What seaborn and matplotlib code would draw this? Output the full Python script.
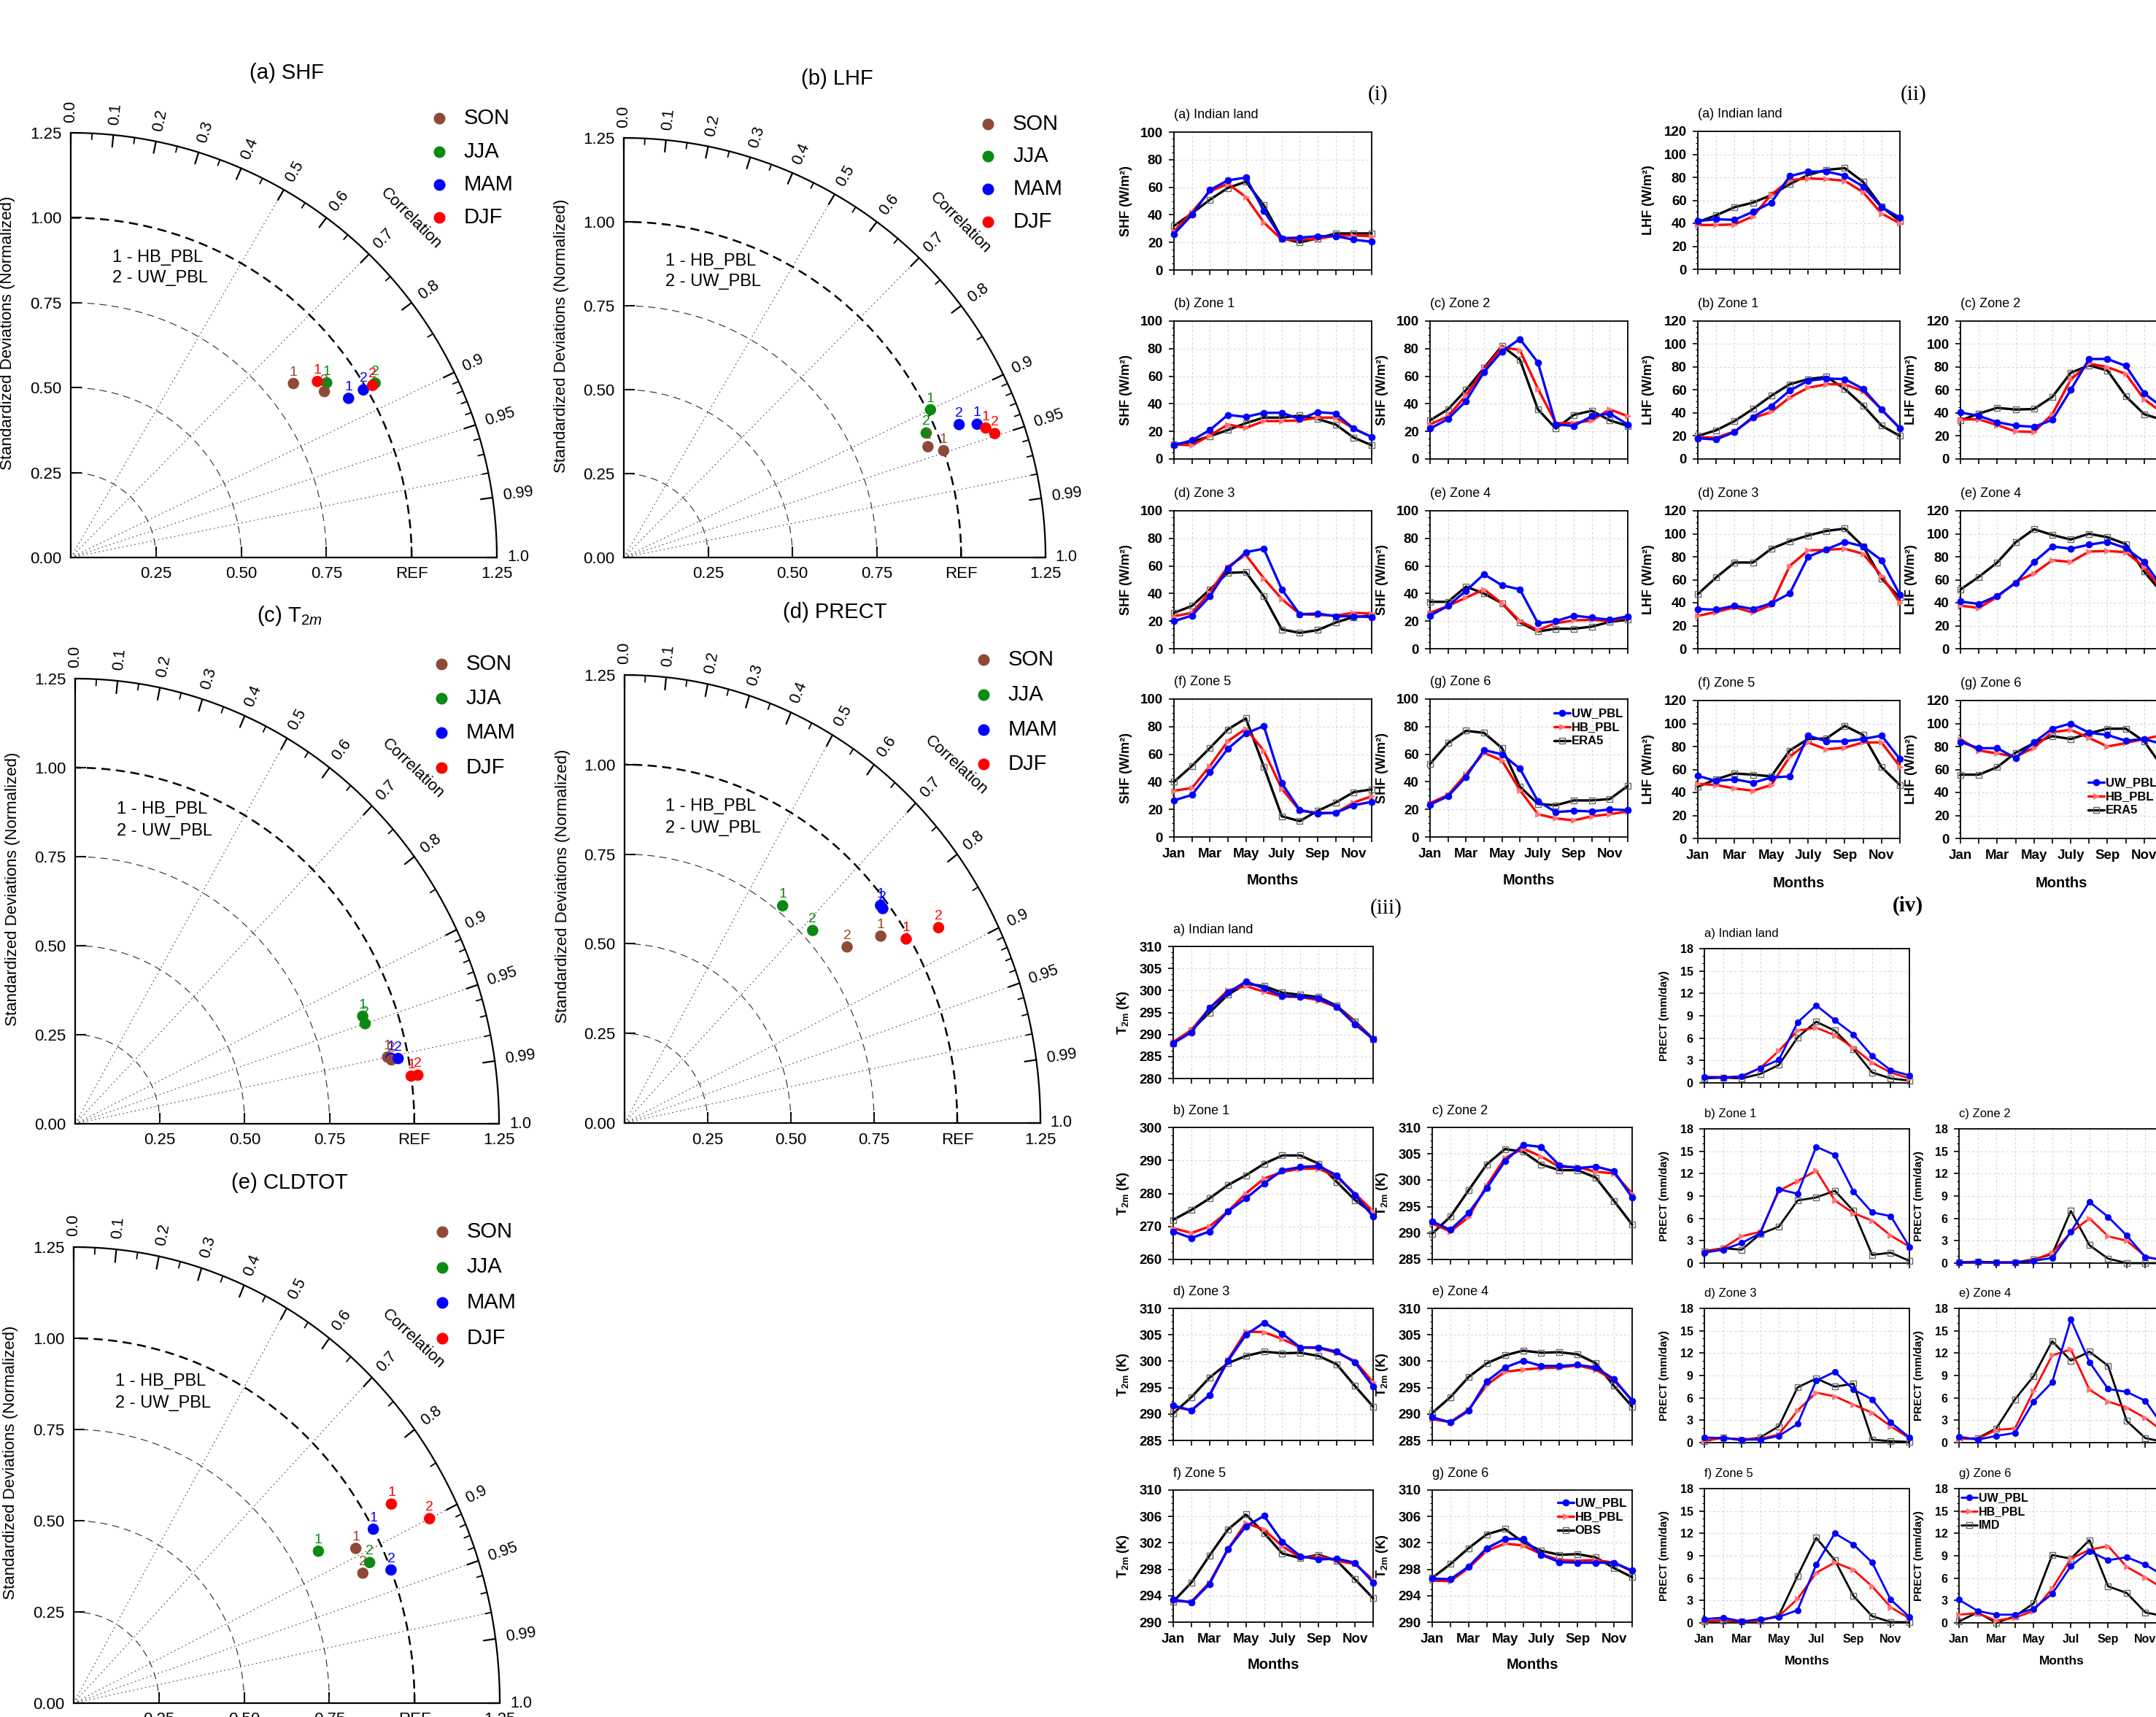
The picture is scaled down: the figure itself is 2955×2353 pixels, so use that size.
import numpy as np
import pandas as pd
import seaborn as sns
import matplotlib.pyplot as plt
from matplotlib.ticker import AutoMinorLocator

sns.set_style('ticks')
plt.rcParams['font.family'] = ['Liberation Sans', 'DejaVu Sans']
plt.rcParams['mathtext.fontset'] = 'custom'
plt.rcParams['mathtext.rm'] = 'Liberation Sans'
plt.rcParams['mathtext.it'] = 'Liberation Sans:italic'
plt.rcParams['mathtext.bf'] = 'Liberation Sans:bold'
for k in ['axes.edgecolor', 'text.color', 'xtick.color', 'ytick.color', 'axes.labelcolor']:
    plt.rcParams[k] = 'black'

NARROW = ['Liberation Sans Narrow', 'Liberation Sans', 'DejaVu Sans']
SERIF = ['Liberation Serif', 'DejaVu Serif']

# ---------------- Taylor diagram data (normalised std, correlation) ----------------
seasons = ['SON', 'JJA', 'MAM', 'DJF']
season_colors = ['#8e4a36', '#0b8a12', '#0000ff', '#ff0000']

taylor_titles = ['(a) SHF', '(b) LHF', '(c) T$_{2m}$', '(d) PRECT', '(e) CLDTOT']
# 1 - HB_PBL
hb_std = [[0.83, 0.91, 0.94, 0.89],
          [1.00, 1.01, 1.12, 1.14],
          [0.94, 0.90, 0.95, 1.00],
          [0.93, 0.77, 0.98, 0.99],
          [0.93, 0.83, 1.00, 1.08]]
hb_cor = [[0.787, 0.825, 0.867, 0.813],
          [0.948, 0.900, 0.935, 0.941],
          [0.980, 0.942, 0.981, 0.991],
          [0.828, 0.617, 0.785, 0.855],
          [0.890, 0.865, 0.879, 0.863]]
# 2 - UW_PBL
uw_std = [[0.89, 1.03, 0.99, 1.02],
          [0.96, 0.97, 1.07, 1.16],
          [0.95, 0.90, 0.97, 1.02],
          [0.83, 0.78, 0.98, 1.09],
          [0.92, 0.95, 1.00, 1.16]]
uw_cor = [[0.836, 0.867, 0.867, 0.868],
          [0.939, 0.924, 0.929, 0.948],
          [0.982, 0.950, 0.982, 0.991],
          [0.806, 0.725, 0.792, 0.866],
          [0.922, 0.914, 0.931, 0.900]]

# ---------------- Monthly cycle data ----------------
months = ['Jan', 'Feb', 'Mar', 'Apr', 'May', 'Jun', 'Jul', 'Aug', 'Sep', 'Oct', 'Nov', 'Dec']
zones = ['Indian land', 'Zone 1', 'Zone 2', 'Zone 3', 'Zone 4', 'Zone 5', 'Zone 6']

shf_uw = {
    'Indian land': [26, 40, 58, 65, 67, 43, 23, 23.5, 24.5, 24.5, 22, 20.5],
    'Zone 1': [10, 13.5, 21, 32, 30.5, 33.5, 33.5, 29, 34, 33, 22, 16],
    'Zone 2': [22, 29, 42, 63, 78, 87, 70, 25, 24, 31, 33, 25],
    'Zone 3': [20, 24, 38, 58, 70, 72.5, 43, 25, 25.5, 23.5, 23.5, 23],
    'Zone 4': [24, 31, 42, 54, 46, 43, 18.5, 20, 24, 22.5, 21, 23.5],
    'Zone 5': [26.5, 30.5, 47, 64, 75, 80.5, 39, 19.5, 17, 17.5, 23, 25.5],
    'Zone 6': [23.5, 29.5, 43.5, 63, 60, 49.5, 26, 18, 19, 18.5, 20, 19.5]}
shf_hb = {
    'Indian land': [28, 42, 57, 62.5, 53, 34.5, 22, 22, 22.5, 25, 25, 24.5],
    'Zone 1': [10.5, 10, 17, 25, 22.5, 27.5, 27.5, 28, 30, 30, 22, 16],
    'Zone 2': [25, 31, 46, 65, 81, 79, 51, 26, 26, 28, 36, 31],
    'Zone 3': [23.5, 26, 41, 59.5, 68, 51, 36, 25, 24.5, 24, 26, 25.5],
    'Zone 4': [26, 31, 37, 43, 33, 20, 13.5, 18.5, 20.5, 21, 20, 23],
    'Zone 5': [33.5, 35.5, 51.5, 69.5, 78.5, 62.5, 35, 19, 17.5, 17.5, 25, 29.5],
    'Zone 6': [24.5, 30.5, 45.5, 61, 55.5, 34, 16.5, 13.5, 12, 15, 16.5, 18.5]}
shf_era5 = {
    'Indian land': [32, 41, 51, 59.5, 64, 47, 23, 20, 23, 26.5, 26.5, 26.5],
    'Zone 1': [10.5, 12.5, 16.5, 21, 26, 30, 30, 31.5, 29, 25, 15.5, 10],
    'Zone 2': [28, 36, 50, 66, 82, 72, 36, 22, 32, 35, 28, 24],
    'Zone 3': [26, 31, 43, 55, 55.5, 38, 14, 11.5, 13.5, 19, 23, 24],
    'Zone 4': [34, 34, 45, 40, 33, 19, 12.5, 14.5, 14.5, 16, 19.5, 21],
    'Zone 5': [40, 51.5, 64.5, 78, 86, 51, 15, 11.5, 19, 25, 32.5, 34.5],
    'Zone 6': [53, 68, 77, 75.5, 64.5, 36.5, 24, 23, 26.5, 26.5, 27.5, 37]}

lhf_uw = {
    'Indian land': [42, 43.5, 43, 50, 58, 81, 85, 85, 81.5, 72, 54, 45],
    'Zone 1': [18, 17, 23.5, 36.5, 46, 59.5, 68, 70, 69.5, 61, 43, 26.5],
    'Zone 2': [40.5, 37.5, 32, 29, 28, 34, 60, 87, 87, 81, 57, 45],
    'Zone 3': [34.5, 34, 37.5, 34.5, 39.5, 48, 80, 86.5, 93, 89, 77, 47],
    'Zone 4': [41, 39, 46, 57, 75.5, 89, 87, 90.5, 93, 87.5, 75.5, 53],
    'Zone 5': [54.5, 50, 51.5, 48.5, 53, 54, 89.5, 84.5, 84.5, 86.5, 89.5, 69],
    'Zone 6': [84, 78.5, 78.5, 70, 83.5, 95.5, 100, 92, 90, 85, 86.5, 82]}
lhf_hb = {
    'Indian land': [38.5, 38.5, 39, 46, 65, 77.5, 79, 78.5, 77, 67, 48.5, 40],
    'Zone 1': [19, 18.5, 24, 35.5, 41, 53.5, 62, 65, 65, 59, 43, 27],
    'Zone 2': [34.5, 34.5, 29.5, 24, 23.5, 39, 69, 83, 80, 74, 52, 40],
    'Zone 3': [28.5, 32, 36, 31.5, 38, 72, 85.5, 86, 87, 82.5, 63.5, 40],
    'Zone 4': [37.5, 35.5, 45, 58, 65.5, 77, 75.5, 84.5, 85, 84, 71, 50],
    'Zone 5': [47.5, 46.5, 43.5, 41.5, 46.5, 71, 83.5, 77.5, 79, 83.5, 83.5, 62.5],
    'Zone 6': [86.5, 76.5, 74, 71, 79, 92.5, 94.5, 87.5, 80, 83, 86.5, 90]}
lhf_era5 = {
    'Indian land': [41, 47, 54, 58, 64.5, 74, 82, 86.5, 88, 76, 54.5, 42],
    'Zone 1': [20, 25, 33, 43.5, 55, 65, 69.5, 71.5, 61, 46.5, 29, 20],
    'Zone 2': [33.5, 39.5, 44.5, 43, 43.5, 54, 75, 81.5, 77, 54.5, 39, 34],
    'Zone 3': [47.5, 62, 75, 75, 87, 93.5, 98.5, 102.5, 104.5, 89, 61, 44.5],
    'Zone 4': [51.5, 62.5, 75, 92.5, 104, 99, 95, 100, 97, 91, 67, 48],
    'Zone 5': [45, 51.5, 56.5, 55.5, 54, 76.5, 86.5, 87, 98, 90, 62, 46.5],
    'Zone 6': [55.5, 55.5, 62, 74.5, 83, 89, 86.5, 91.5, 95.5, 95.5, 84.5, 62]}

t2m_uw = {
    'Indian land': [288, 290.5, 296, 299.5, 302, 300.5, 298.8, 298.6, 298.2, 296.3, 292.3, 289],
    'Zone 1': [268.5, 266.5, 268.5, 274.5, 278.5, 283, 287, 288, 288.3, 285.5, 279.5, 273],
    'Zone 2': [292.2, 290.6, 293.8, 298.5, 303.6, 306.7, 306.3, 302.8, 302.3, 302.6, 301.7, 296.7],
    'Zone 3': [291.6, 290.7, 293.6, 300, 305, 307.3, 305.2, 302.6, 302.6, 301.8, 299.8, 295.2],
    'Zone 4': [289.4, 288.4, 290.6, 296.2, 298.8, 300.1, 299.1, 299.1, 299.3, 298.8, 296.6, 292.5],
    'Zone 5': [293.4, 293, 295.8, 301, 304.5, 306.1, 302.2, 300, 299.5, 299.6, 299, 296],
    'Zone 6': [296.6, 296.5, 298.4, 301.2, 302.6, 302.6, 300.2, 299.1, 299, 299, 299, 297.8]}
t2m_hb = {
    'Indian land': [288.3, 291, 296, 300, 301, 299.7, 298.6, 298.5, 297.8, 296.2, 292.8, 288.8],
    'Zone 1': [269.5, 268, 270, 274.5, 280, 284.5, 286.5, 287.5, 287.5, 285, 280, 274.5],
    'Zone 2': [291.8, 290.3, 293, 299, 304.2, 306, 304.5, 302.5, 302.5, 301.6, 301.3, 297.5],
    'Zone 3': [291.4, 290.7, 293.6, 300.2, 305.6, 305.5, 304.2, 302.6, 302.5, 301.6, 300, 296],
    'Zone 4': [289, 288.5, 290.8, 295.5, 298, 298.4, 298.7, 298.8, 299.2, 298.4, 296.4, 292.6],
    'Zone 5': [293.2, 293.1, 296, 301, 305, 304, 301.5, 299.8, 300, 299.3, 298.8, 296.4],
    'Zone 6': [296.3, 296.2, 298.2, 300.8, 301.9, 301.6, 300.3, 299.4, 299.3, 299.4, 299, 297.7]}
t2m_obs = {
    'Indian land': [288, 291, 295, 299, 301.5, 301, 299.5, 299, 298.5, 296.5, 293, 289],
    'Zone 1': [272, 275, 278.5, 282.5, 285.5, 289, 291.5, 291.5, 289, 283.5, 278, 274],
    'Zone 2': [289.9, 293.1, 298.1, 303, 305.9, 305.4, 303, 301.9, 301.9, 300.5, 296.1, 291.6],
    'Zone 3': [290.1, 293.2, 296.9, 299.6, 301, 301.8, 301.5, 301.6, 301, 299.4, 295.3, 291.4],
    'Zone 4': [290.2, 293.2, 297, 299.6, 301.1, 302, 301.6, 301.7, 301.3, 299.6, 295.3, 291.4],
    'Zone 5': [293.1, 296, 300.1, 304, 306.3, 303.5, 300.4, 299.7, 300.2, 299.3, 296.5, 293.6],
    'Zone 6': [296.7, 298.8, 301.2, 303.3, 304.1, 302.1, 300.8, 300.2, 300.3, 299.8, 298.2, 296.8]}

prect_uw = {
    'Indian land': [0.8, 0.7, 0.9, 2.0, 3.1, 8.1, 10.4, 8.4, 6.5, 3.6, 1.7, 1.0],
    'Zone 1': [1.4, 1.8, 2.7, 4.0, 9.9, 9.3, 15.6, 14.5, 9.6, 6.8, 6.3, 2.2],
    'Zone 2': [0.1, 0.2, 0.1, 0.1, 0.3, 0.7, 4.2, 8.2, 6.2, 3.7, 0.8, 0.4],
    'Zone 3': [0.7, 0.6, 0.4, 0.4, 0.9, 2.5, 8.3, 9.5, 7.1, 5.8, 2.7, 0.7],
    'Zone 4': [0.8, 0.4, 0.9, 1.3, 5.5, 8.1, 16.5, 10.8, 7.2, 6.8, 5.6, 2.0],
    'Zone 5': [0.5, 0.7, 0.2, 0.5, 0.8, 1.7, 7.8, 12.0, 10.5, 8.1, 3.1, 0.8],
    'Zone 6': [3.1, 1.6, 1.1, 1.1, 1.9, 3.9, 7.6, 9.6, 8.4, 8.8, 7.8, 6.3]}
prect_hb = {
    'Indian land': [0.8, 0.8, 0.8, 2.0, 4.3, 7.0, 7.4, 6.4, 4.7, 2.7, 1.4, 0.6],
    'Zone 1': [1.5, 2.0, 3.6, 4.2, 9.7, 11.0, 12.4, 8.4, 6.7, 5.7, 3.7, 2.2],
    'Zone 2': [0.1, 0.1, 0.1, 0.1, 0.4, 1.4, 4.1, 6.0, 3.6, 3.0, 0.9, 0.3],
    'Zone 3': [0.3, 0.6, 0.5, 0.5, 1.1, 4.3, 6.7, 6.2, 5.1, 4.0, 2.2, 0.6],
    'Zone 4': [0.5, 0.5, 1.7, 1.9, 6.9, 11.7, 12.5, 7.1, 5.5, 4.7, 3.3, 1.4],
    'Zone 5': [0.2, 0.4, 0.2, 0.3, 0.9, 3.2, 6.7, 8.1, 7.1, 4.9, 2.1, 0.6],
    'Zone 6': [1.1, 1.3, 0.3, 0.7, 1.6, 4.6, 8.6, 9.8, 10.3, 7.5, 6.1, 4.5]}
prect_imd = {
    'Indian land': [0.6, 0.7, 0.6, 1.2, 2.4, 6.1, 8.2, 7.0, 4.5, 1.4, 0.6, 0.3],
    'Zone 1': [1.6, 2.0, 1.8, 3.9, 4.9, 8.4, 8.8, 9.7, 7.0, 1.1, 1.4, 0.3],
    'Zone 2': [0.1, 0.2, 0.1, 0.1, 0.5, 1.2, 7.0, 2.4, 0.6, 0.0, 0.0, 0.0],
    'Zone 3': [0.2, 0.7, 0.3, 0.7, 2.2, 7.4, 8.6, 7.5, 7.9, 0.4, 0.2, 0.1],
    'Zone 4': [0.5, 0.6, 1.9, 5.8, 8.9, 13.6, 11.0, 12.2, 10.3, 2.9, 0.6, 0.1],
    'Zone 5': [0.2, 0.3, 0.2, 0.3, 1.0, 6.3, 11.4, 8.4, 3.6, 0.9, 0.1, 0.1],
    'Zone 6': [0.2, 1.4, 0.0, 0.9, 2.6, 9.1, 8.6, 11.1, 4.9, 4.0, 1.4, 0.9]}

# y-axis ranges (min, max, step)
shf_range = {z: (0, 100, 20) for z in zones}
lhf_range = {z: (0, 120, 20) for z in zones}
t2m_range = {'Indian land': (280, 310, 5), 'Zone 1': (260, 300, 10), 'Zone 2': (285, 310, 5),
             'Zone 3': (285, 310, 5), 'Zone 4': (285, 310, 5), 'Zone 5': (290, 310, 4),
             'Zone 6': (290, 310, 4)}
prect_range = {z: (0, 18, 3) for z in zones}

# ---------------- figure ----------------
W, H = 2955, 2353
fig = plt.figure(figsize=(W / 100, H / 100), dpi=100)


def box(left, top, w, h):
    return [left / W, 1 - (top + h) / H, w / W, h / H]


major_cc = [0.0, 0.1, 0.2, 0.3, 0.4, 0.5, 0.6, 0.7, 0.8, 0.9, 0.95, 0.99, 1.0]
major_lbl = ['0.0', '0.1', '0.2', '0.3', '0.4', '0.5', '0.6', '0.7', '0.8', '0.9', '0.95', '0.99', '1.0']
minor_cc = [0.05, 0.15, 0.25, 0.35, 0.45, 0.55, 0.65, 0.75, 0.85,
            0.91, 0.92, 0.93, 0.94, 0.96, 0.97, 0.98]
ray_cc = [0.5, 0.7, 0.9, 0.95, 0.98]

# origin x, origin y, width, height (pixels) of each Taylor quadrant
taylor_boxes = [(97, 764, 584, 582), (855, 764, 578, 575), (103, 1540, 581, 610),
                (856, 1539, 570, 614), (101, 2334, 584, 625)]


def draw_taylor(rect, title, s1, c1, s2, c2):
    ox, oy, w, h = rect
    ax = fig.add_axes([ox / W, 1 - oy / H, w / W, h / H])
    ax.set_xlim(0, 1.25)
    ax.set_ylim(0, 1.25)
    ax.set_facecolor('none')
    for s in ['top', 'right']:
        ax.spines[s].set_visible(False)
    for s in ['left', 'bottom']:
        ax.spines[s].set_linewidth(1.6)

    def dang(a):
        return np.degrees(np.arctan2(np.sin(a) * h, np.cos(a) * w))

    th = np.linspace(0, np.pi / 2, 400)
    ax.plot(1.25 * np.cos(th), 1.25 * np.sin(th), color='black', lw=1.6, clip_on=False)
    ax.plot(np.cos(th), np.sin(th), color='black', lw=1.8, ls=(0, (5, 3)))
    for r in (0.25, 0.5, 0.75):
        ax.plot(r * np.cos(th), r * np.sin(th), color='#2a2a2a', lw=0.8, ls=(0, (9, 6)))
    for c in ray_cc:
        a = np.arccos(c)
        ax.plot([0, 1.25 * np.cos(a)], [0, 1.25 * np.sin(a)], color='#444444', lw=0.8,
                ls=(0, (1.5, 3.5)))
    for c, lab in zip(major_cc, major_lbl):
        a = np.arccos(c)
        ax.plot([1.25 * np.cos(a), 1.215 * np.cos(a)], [1.25 * np.sin(a), 1.215 * np.sin(a)],
                color='black', lw=1.6, clip_on=False)
        ax.text(1.28 * np.cos(a), 1.28 * np.sin(a), lab, rotation=dang(a), rotation_mode='anchor',
                ha='left', va='center', fontsize=15.5, clip_on=False)
    for c in minor_cc:
        a = np.arccos(c)
        ax.plot([1.25 * np.cos(a), 1.232 * np.cos(a)], [1.25 * np.sin(a), 1.232 * np.sin(a)],
                color='black', lw=1.3, clip_on=False)
    ax.text(1.41 * np.cos(np.pi / 4), 1.41 * np.sin(np.pi / 4), 'Correlation',
            rotation=dang(np.pi / 4) - 90, rotation_mode='anchor', ha='center', va='center',
            fontsize=16)

    ax.set_yticks([0, 0.25, 0.5, 0.75, 1.0, 1.25])
    ax.set_yticklabels(['0.00', '0.25', '0.50', '0.75', '1.00', '1.25'])
    ax.set_xticks([0, 0.25, 0.5, 0.75, 1.0, 1.25])
    ax.set_xticklabels(['', '0.25', '0.50', '0.75', 'REF', '1.25'])
    ax.tick_params(direction='in', length=11, width=1.5, labelsize=16, pad=9,
                   bottom=True, left=True)
    ax.text(-0.185, 0.66, 'Standardized Deviations (Normalized)', rotation=90,
            ha='center', va='center', fontsize=16)
    ax.text(0.633, 1.426, title, ha='center', va='center', fontsize=21)
    ax.text(0.123, 0.883, '1 - HB_PBL', va='center', fontsize=17)
    ax.text(0.123, 0.822, '2 - UW_PBL', va='center', fontsize=17)

    pal = dict(zip(seasons, season_colors))
    for num, (sd, cc) in enumerate(((s1, c1), (s2, c2)), start=1):
        sd = np.array(sd)
        cc = np.array(cc)
        pts = pd.DataFrame({'x': sd * cc, 'y': sd * np.sqrt(1 - cc ** 2), 'season': seasons})
        sns.scatterplot(data=pts, x='x', y='y', hue='season', palette=pal, s=125,
                        linewidth=0, legend=False, ax=ax, zorder=5, clip_on=False)
        for _, r in pts.iterrows():
            ax.annotate(str(num), (r['x'], r['y']), xytext=(0, 5), textcoords='offset points',
                        ha='center', va='bottom', color=pal[r['season']], fontsize=14, zorder=6)
    ax.set_xlabel('')
    ax.set_ylabel('')

    for k, (name, col) in enumerate(zip(seasons, season_colors)):
        yy = 1.292 - 0.097 * k
        ax.plot([1.08], [yy], 'o', color=col, ms=10.5, clip_on=False)
        ax.text(1.153, yy, name, fontsize=21, va='center', ha='left')


for i in range(5):
    draw_taylor(taylor_boxes[i], taylor_titles[i], hb_std[i], hb_cor[i], uw_std[i], uw_cor[i])

# ---------------- monthly panels ----------------
cells = [(0, 0), (0, 1), (1, 1), (0, 2), (1, 2), (0, 3), (1, 3)]
letters = 'abcdefg'


def draw_group(spec, uw, hb, ref, ref_name, ylabel, yr, roman):
    lw = spec['lw']
    fs = spec['fs']
    fam = spec['fam']
    for k, zone in enumerate(zones):
        col, row = cells[k]
        ax = fig.add_axes(box(spec['lefts'][col], spec['tops'][row], spec['w'], spec['h']))
        x = np.arange(12)
        sns.lineplot(x=x, y=ref[zone], ax=ax, color='black', lw=lw, marker='s',
                     markersize=spec['ms'], markerfacecolor='none', markeredgecolor='#666666',
                     markeredgewidth=1.0, clip_on=False, zorder=3)
        sns.lineplot(x=x, y=hb[zone], ax=ax, color='#ff0000', lw=lw, marker='>',
                     markersize=spec['ms'], markerfacecolor='#ff7474', markeredgecolor='#ff7474',
                     markeredgewidth=0.5, clip_on=False, zorder=4)
        sns.lineplot(x=x, y=uw[zone], ax=ax, color='#0000ff', lw=lw, marker='o',
                     markersize=spec['ms'] + 0.5, markerfacecolor='#0000ff',
                     markeredgecolor='#0000ff', markeredgewidth=0.5, clip_on=False, zorder=5)
        lo, hi, st = yr[zone]
        ax.set_xlim(0, 11)
        ax.set_ylim(lo, hi)
        ax.set_xticks(x)
        if row == 3:
            ax.set_xticklabels(spec['xlabels'])
            ax.set_xlabel('Months', fontsize=fs + 1, fontweight='bold', family=fam)
            ax.xaxis.set_label_coords(0.5, spec['xlab_y'])
        else:
            ax.set_xticklabels([])
            ax.set_xlabel('')
        ax.set_yticks(np.arange(lo, hi + st / 2, st))
        ax.yaxis.set_minor_locator(AutoMinorLocator(spec['nminor']))
        ax.tick_params(which='major', direction='out', length=5, width=1.2, labelsize=fs,
                       pad=6, bottom=True, left=True)
        ax.tick_params(axis='y', which='minor', direction='out', length=2.5, width=0.8, left=True)
        ax.tick_params(axis='x', which='minor', bottom=False)
        for lab in ax.get_xticklabels() + ax.get_yticklabels():
            lab.set_family(fam)
            lab.set_fontweight('bold')
        ax.grid(True, which='major', color='#d2d2d2', ls=(0, (3, 3)), lw=0.7)
        for s in ax.spines.values():
            s.set_linewidth(1.3)
        ax.set_ylabel(ylabel, fontsize=spec['yfs'], fontweight='bold', family=fam)
        ax.yaxis.set_label_coords(spec['ylab_x'], 0.5)
        ax.text(0, 1 + spec['tdy'], spec['fmt'].format(letters[k], zone), transform=ax.transAxes,
                ha='left', va='center', fontsize=spec['tfs'], family=spec['tfam'])
        if k == 6:
            ln = ax.get_lines()
            leg = ax.legend([ln[2], ln[1], ln[0]], ['UW_PBL', 'HB_PBL', ref_name],
                            loc='upper left', bbox_to_anchor=spec['leg'],
                            bbox_transform=fig.transFigure, frameon=False,
                            handlelength=1.6, handletextpad=0.1, labelspacing=0.3,
                            borderpad=0, borderaxespad=0)
            for t in leg.get_texts():
                t.set_fontsize(spec['lfs'])
                t.set_fontweight('bold')
                t.set_family(fam)
    fig.text(roman[1] / W, 1 - roman[2] / H, roman[0], family=SERIF, fontsize=21,
             fontweight=roman[3], ha='center', va='center')


long_lbl = [m if i % 2 == 0 else '' for i, m in enumerate(months)]
long_lbl[6] = 'July'
short_lbl = [m if i % 2 == 0 else '' for i, m in enumerate(months)]

base = dict(lw=2.4, ms=6, fs=13.5, yfs=13, fam=NARROW, nminor=4, tfs=13, tfam=NARROW,
            lfs=12, xlabels=long_lbl)
spec_i = dict(base, lefts=(1609, 1960), w=271, tops=(181, 440, 700, 958), h=189,
              tdy=0.122, ylab_x=-0.21, xlab_y=-0.265, fmt='({}) {}',
              leg=(2130 / W, 1 - 970 / H))
spec_ii = dict(base, lefts=(2327, 2687), w=277, tops=(180, 440, 700, 960), h=189,
               tdy=0.122, ylab_x=-0.213, xlab_y=-0.275, fmt='({}) {}',
               leg=(2862 / W, 1 - 1065 / H))
spec_iii = dict(base, lefts=(1608, 1963), w=274, tops=(1297, 1545, 1793, 2042), h=181,
                tdy=0.124, ylab_x=-0.213, xlab_y=-0.27, fmt='{}) {}',
                leg=(2135 / W, 1 - 2052 / H))
spec_iv = dict(base, lefts=(2336, 2685), w=281, tops=(1300, 1547, 1793, 2040), h=184,
               tdy=0.114, ylab_x=-0.17, xlab_y=-0.245, fmt='{}) {}', lw=2.0, ms=5.5,
               fs=11.5, yfs=11, fam=['Liberation Sans', 'DejaVu Sans'], nminor=3, tfs=12,
               tfam=['Liberation Sans', 'DejaVu Sans'], lfs=11.5, xlabels=short_lbl,
               leg=(2688 / W, 1 - 2045 / H))

draw_group(spec_i, shf_uw, shf_hb, shf_era5, 'ERA5', 'SHF (W/m²)', shf_range,
           ('(i)', 1889, 130, 'normal'))
draw_group(spec_ii, lhf_uw, lhf_hb, lhf_era5, 'ERA5', 'LHF (W/m²)', lhf_range,
           ('(ii)', 2623, 130, 'normal'))
draw_group(spec_iii, t2m_uw, t2m_hb, t2m_obs, 'OBS', r'$\mathbf{T_{2m}}$ (K)', t2m_range,
           ('(iii)', 1900, 1245, 'normal'))
draw_group(spec_iv, prect_uw, prect_hb, prect_imd, 'IMD', 'PRECT (mm/day)', prect_range,
           ('(iv)', 2615, 1241, 'bold'))

fig.savefig('out.png', dpi=100)
